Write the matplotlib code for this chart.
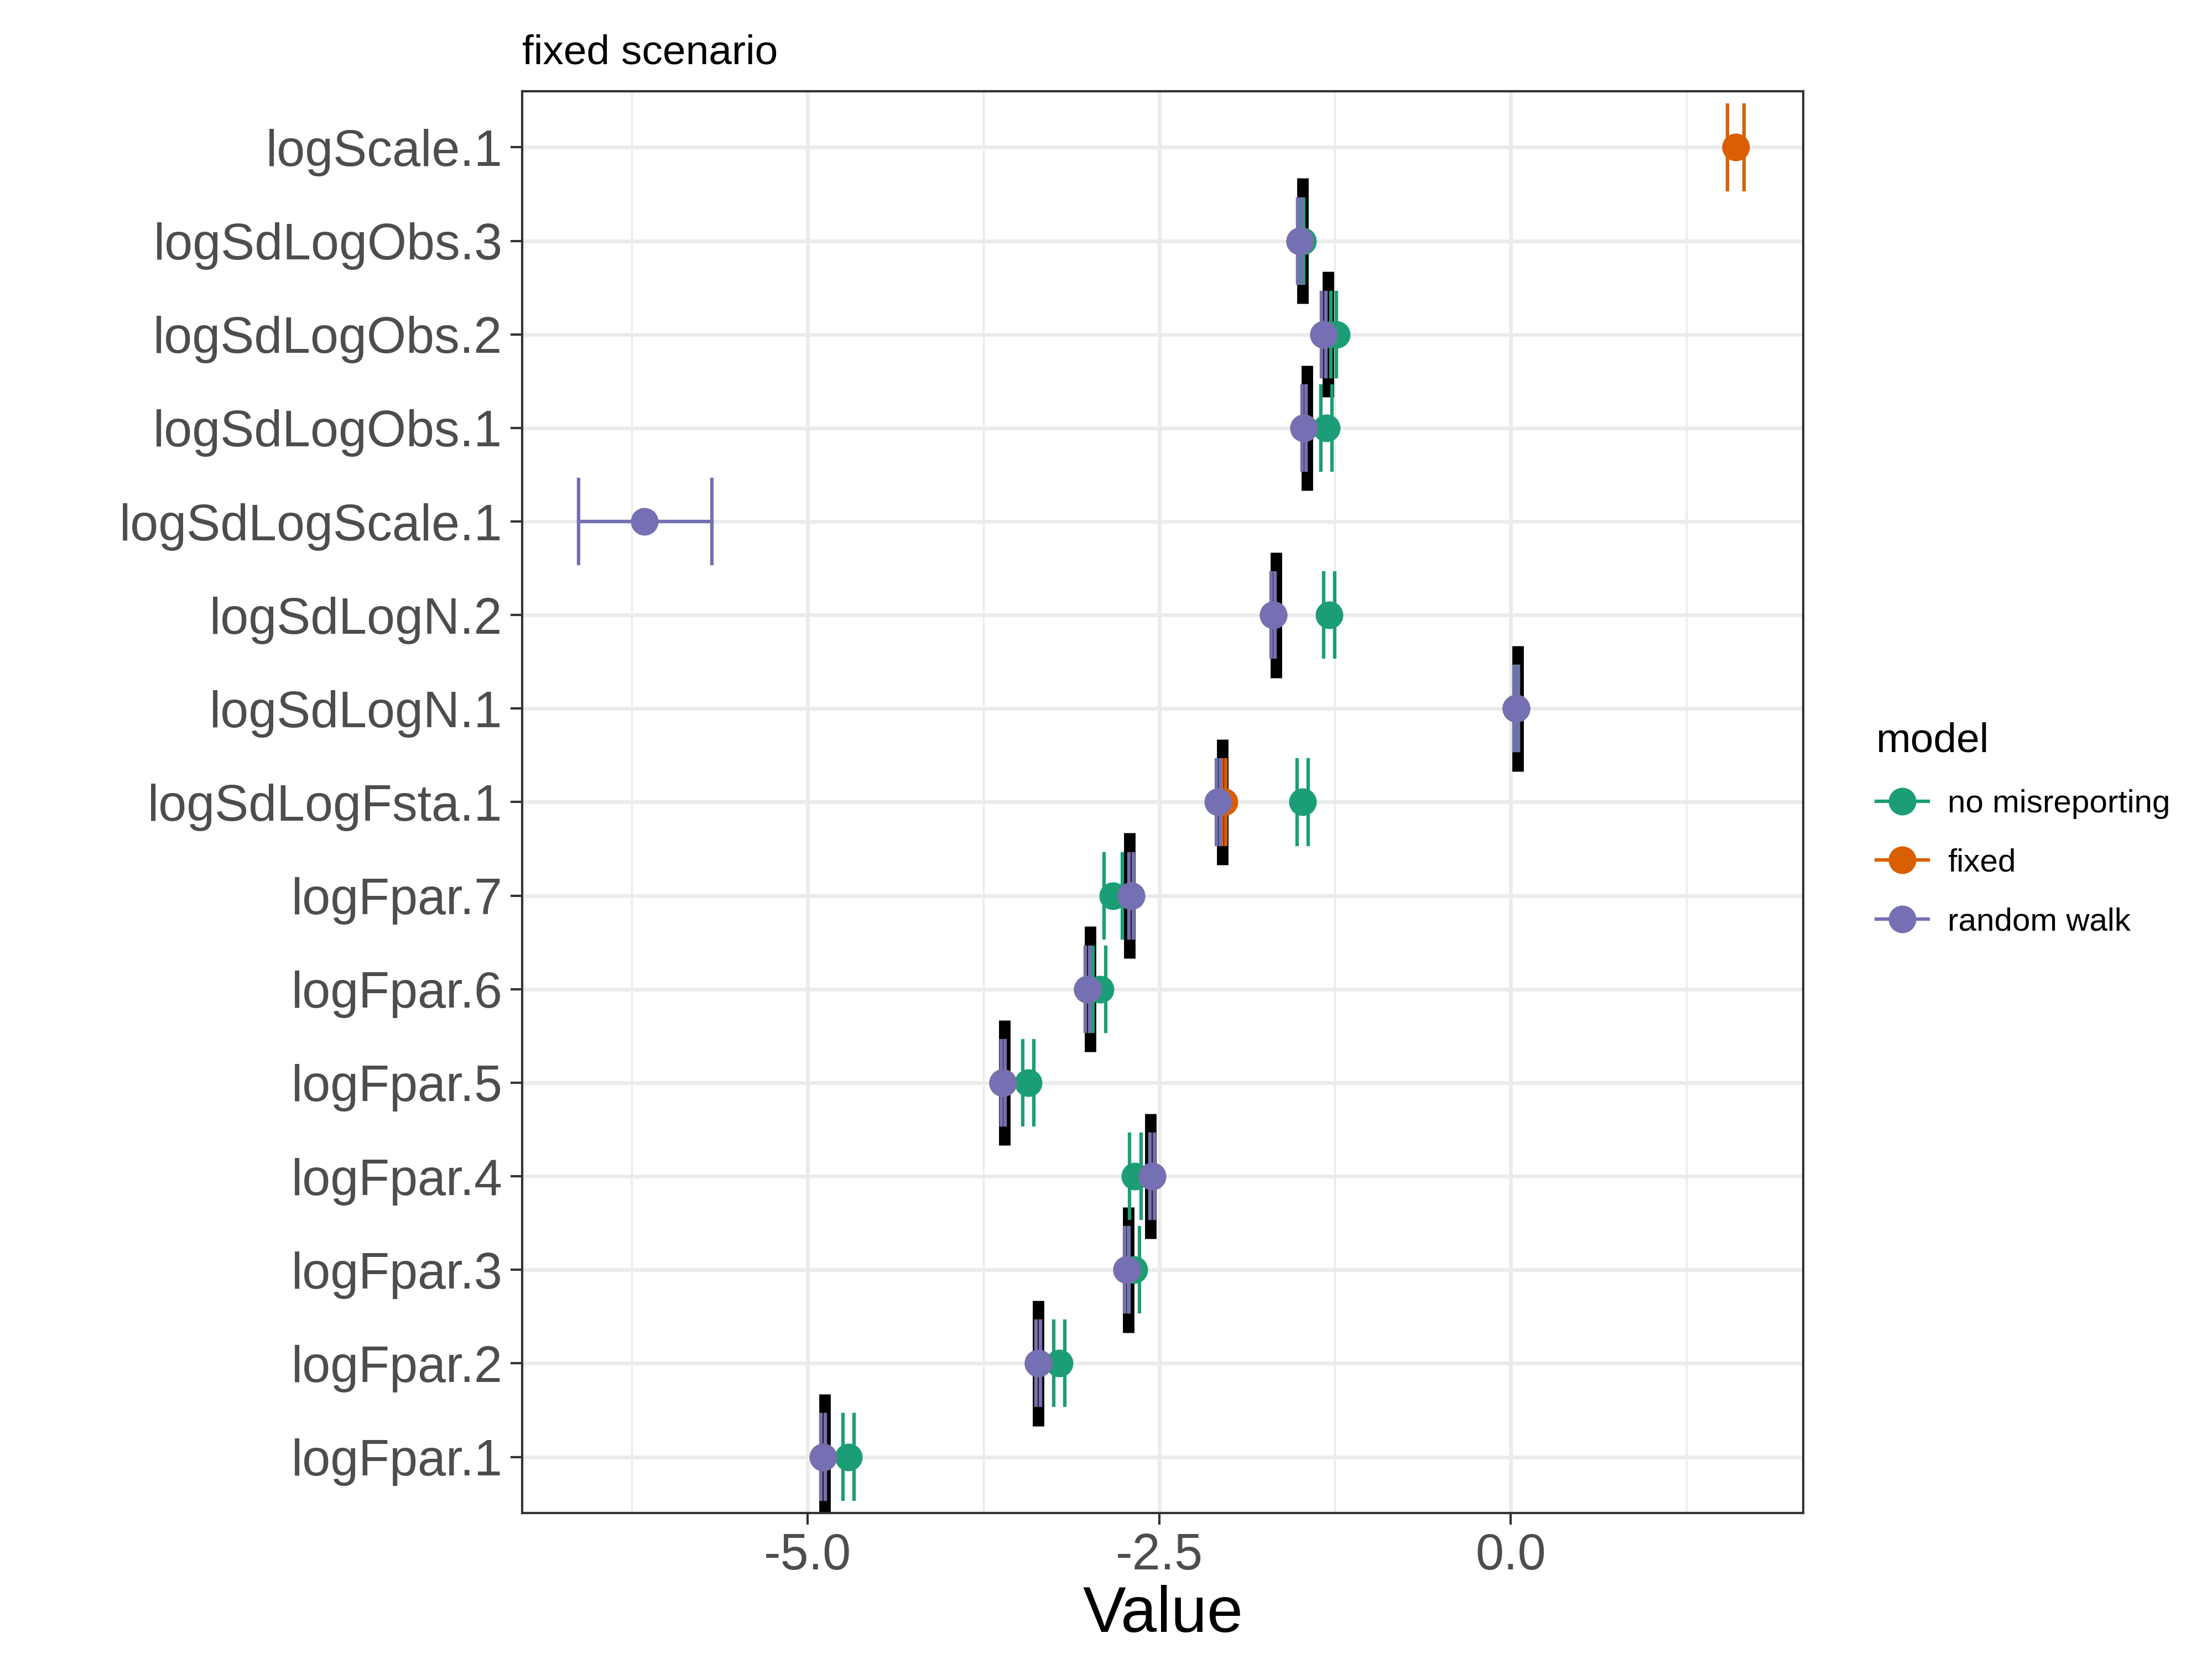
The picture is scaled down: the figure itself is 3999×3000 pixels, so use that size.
import matplotlib
matplotlib.use("Agg")
import matplotlib.pyplot as plt
from matplotlib.lines import Line2D
import numpy as np

plt.rcParams['font.family'] = ['Liberation Sans', 'DejaVu Sans']

params = ["logScale.1","logSdLogObs.3","logSdLogObs.2","logSdLogObs.1","logSdLogScale.1",
          "logSdLogN.2","logSdLogN.1","logSdLogFsta.1","logFpar.7","logFpar.6","logFpar.5",
          "logFpar.4","logFpar.3","logFpar.2","logFpar.1"]
nan = np.nan
true_val = [nan,-1.48,-1.30,-1.45,nan,-1.67,0.05,-2.05,-2.71,-2.99,-3.60,-2.56,-2.72,-3.36,-4.88]
nomis_est = [nan,-1.48,-1.24,-1.31,nan,-1.29,0.04,-1.48,-2.83,-2.92,-3.43,-2.67,-2.68,-3.21,-4.71]
nomis_lo  = [nan,-1.49,-1.28,-1.35,nan,-1.33,0.03,-1.52,-2.89,-2.97,-3.47,-2.71,-2.72,-3.25,-4.75]
nomis_hi  = [nan,-1.47,-1.24,-1.27,nan,-1.25,0.05,-1.44,-2.76,-2.88,-3.39,-2.63,-2.64,-3.17,-4.67]
fixed_est = [1.60,-1.50,-1.33,-1.47,nan,-1.69,0.04,-2.04,-2.70,-3.01,-3.61,-2.55,-2.73,-3.36,-4.89]
fixed_lo  = [1.54,-1.515,-1.345,-1.485,nan,-1.705,0.025,-2.055,-2.715,-3.025,-3.625,-2.565,-2.745,-3.375,-4.905]
fixed_hi  = [1.66,-1.485,-1.315,-1.455,nan,-1.675,0.055,-2.025,-2.685,-2.995,-3.595,-2.535,-2.715,-3.345,-4.875]
rw_est = [nan,-1.50,-1.33,-1.47,-6.16,-1.69,0.04,-2.08,-2.70,-3.01,-3.61,-2.55,-2.73,-3.36,-4.89]
rw_lo  = [nan,-1.515,-1.345,-1.485,-6.63,-1.705,0.025,-2.095,-2.715,-3.025,-3.625,-2.565,-2.745,-3.375,-4.905]
rw_hi  = [nan,-1.485,-1.315,-1.455,-5.68,-1.675,0.055,-2.065,-2.685,-2.995,-3.595,-2.535,-2.715,-3.345,-4.875]

colors = {"no misreporting":"#1B9E77","fixed":"#D95F02","random walk":"#7570B3"}

fig = plt.figure(figsize=(13.333,10), dpi=300)
ax = fig.add_axes([0.236,0.088,0.579,0.857])
n = len(params)
y = np.arange(n)[::-1]

for x in [-6.25,-3.75,-1.25,1.25]:
    ax.axvline(x, color="#EBEBEB", lw=0.8, zorder=0)
for x in [-5,-2.5,0]:
    ax.axvline(x, color="#EBEBEB", lw=1.6, zorder=0)
for yy in y:
    ax.axhline(yy, color="#EBEBEB", lw=1.6, zorder=0)

for yy, t in zip(y, true_val):
    if not np.isnan(t):
        ax.plot([t,t],[yy-0.67,yy+0.67], color="black", lw=5, solid_capstyle="butt", zorder=2)

def draw(est, lo, hi, col, z):
    for yy, e, l, h in zip(y, est, lo, hi):
        if np.isnan(e):
            continue
        ax.plot([l,h],[yy,yy], color=col, lw=1.5, zorder=z)
        for c in (l,h):
            ax.plot([c,c],[yy-0.45,yy+0.45], color=col, lw=1.5, zorder=z)
        ax.plot(e, yy, "o", color=col, ms=11, zorder=z+0.5)

draw(nomis_est, nomis_lo, nomis_hi, colors["no misreporting"], 3)
draw(fixed_est, fixed_lo, fixed_hi, colors["fixed"], 4)
draw(rw_est, rw_lo, rw_hi, colors["random walk"], 5)

ax.set_xlim(-7.03, 2.08)
ax.set_ylim(-0.6, n-1+0.6)
ax.set_yticks(y)
ax.set_yticklabels(params, fontsize=22, color="#4D4D4D")
ax.set_xticks([-5,-2.5,0])
ax.set_xticklabels(["-5.0","-2.5","0.0"], fontsize=22, color="#4D4D4D")
ax.tick_params(length=5, width=1, color="#333333")
for s in ax.spines.values():
    s.set_color("#333333"); s.set_linewidth(1)
ax.set_xlabel("Value", fontsize=28, labelpad=2)
ax.set_title("fixed scenario", fontsize=18, loc="left", pad=12)

handles = [Line2D([0],[0], color=c, marker="o", ms=11, lw=1.5) for c in colors.values()]
leg = fig.legend(handles, list(colors.keys()), title="model", loc="center left",
                 bbox_to_anchor=(0.835,0.5), frameon=False, fontsize=14, title_fontsize=18,
                 handlelength=1.6, labelspacing=0.9, handletextpad=0.6)
leg._legend_box.align = "left"
fig.savefig("out.png", dpi=300)
